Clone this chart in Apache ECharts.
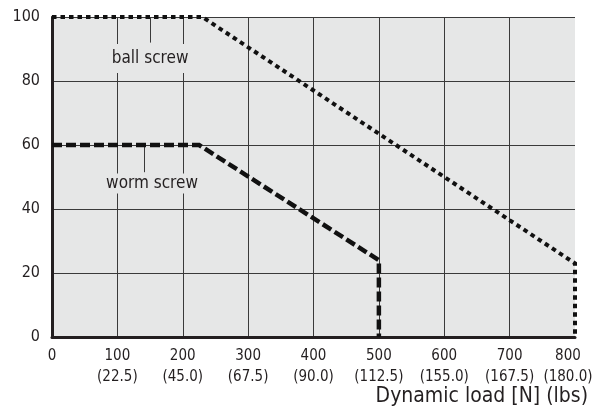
<!DOCTYPE html>
<html>
<head>
<meta charset="utf-8">
<script src="https://cdn.jsdelivr.net/npm/echarts@6/dist/echarts.min.js"></script>
<style>
  html, body { margin: 0; padding: 0; background: #ffffff; }
  #chart { width: 599px; height: 409px; }
</style>
</head>
<body>
<div id="chart"></div>
<script>
// Dynamic load in newtons and the matching pound values printed under each tick
const loadTicksN = [0, 100, 200, 300, 400, 500, 600, 700, 800];
const loadTicksLbs = ['', '(22.5)', '(45.0)', '(67.5)', '(90.0)', '(112.5)', '(155.0)', '(167.5)', '(180.0)'];
const percentTicks = [0, 20, 40, 60, 80, 100];

// Limit curves: [load N, percent]
const ballScrew = [[0, 100], [230, 100], [800, 23], [800, 0]];
const wormScrew = [[0, 60], [225, 60], [500, 24], [500, 0]];

// Curve captions and their leader ticks
const ballLabel = { text: 'ball screw', at: [150, 87], leader: [[150, 100], [150, 92]] };
const wormLabel = { text: 'worm screw', at: [153, 48], leader: [[141, 60], [141, 51.5]] };

const FONT = '"Liberation Sans Narrow", "DejaVu Sans Condensed", sans-serif';
const INK = '#231f20';
const PANEL = '#e6e7e7';

const chart = echarts.init(document.getElementById('chart'), null, { renderer: 'canvas' });

function caption(lbl, padding) {
  return {
    symbol: 'rect',
    symbolSize: 0,
    silent: true,
    data: [{ coord: lbl.at }],
    label: {
      show: true,
      position: 'inside',
      formatter: lbl.text,
      color: INK,
      fontFamily: FONT,
      fontSize: 17,
      backgroundColor: PANEL,
      padding: padding
    }
  };
}

function leader(lbl) {
  return {
    silent: true,
    symbol: 'none',
    label: { show: false },
    lineStyle: { color: '#3a3a3a', width: 1, type: 'solid' },
    data: [[{ coord: lbl.leader[0] }, { coord: lbl.leader[1] }]]
  };
}

const gridColors = loadTicksN.map((v, i) => (i === loadTicksN.length - 1 ? 'rgba(0,0,0,0)' : '#3a3a3a'));

chart.setOption({
  animation: false,
  backgroundColor: '#ffffff',
  title: {
    text: 'Dynamic load [N] (lbs)',
    right: 11,
    top: 386,
    padding: 0,
    textStyle: { color: INK, fontFamily: FONT, fontSize: 21, fontWeight: 'normal' }
  },
  grid: {
    left: 52, right: 24, top: 17, bottom: 72,
    outerBoundsMode: 'none',
    containLabel: false,
    show: true, backgroundColor: PANEL, borderWidth: 0
  },
  xAxis: {
    type: 'value',
    min: loadTicksN[0],
    max: loadTicksN[loadTicksN.length - 1],
    interval: 100,
    axisLine: { show: true, onZero: false, lineStyle: { color: INK, width: 3 } },
    axisTick: { show: false },
    splitLine: { show: true, lineStyle: { color: gridColors, width: 1 } },
    axisLabel: {
      margin: 9,
      color: INK,
      fontFamily: FONT,
      fontSize: 15,
      lineHeight: 21,
      hideOverlap: false,
      formatter: function (value) {
        const i = loadTicksN.indexOf(value);
        if (i < 0) return '';
        if (i === 0) return String(value);
        if (i === loadTicksN.length - 1) {
          return '{e|' + value + '}\n{e|' + loadTicksLbs[i] + '}';
        }
        return value + '\n' + loadTicksLbs[i];
      },
      rich: {
        e: { color: INK, fontFamily: FONT, fontSize: 15, lineHeight: 21, padding: [0, 14, 0, 0] }
      }
    }
  },
  yAxis: {
    type: 'value',
    min: percentTicks[0],
    max: percentTicks[percentTicks.length - 1],
    interval: 20,
    axisLine: { show: true, lineStyle: { color: INK, width: 3 } },
    axisTick: { show: false },
    splitLine: { show: true, lineStyle: { color: '#3a3a3a', width: 1 } },
    axisLabel: {
      margin: 12,
      color: INK,
      fontFamily: FONT,
      fontSize: 16,
      formatter: function (value) {
        return percentTicks.indexOf(value) >= 0 ? String(value) : '';
      }
    }
  },
  series: [
    {
      name: 'ball screw',
      type: 'line',
      data: ballScrew,
      symbol: 'none',
      z: 5,
      lineStyle: { color: '#111111', width: 4, type: [4.5, 4], cap: 'butt', join: 'miter' },
      markPoint: caption(ballLabel, [7, 3, 5, 3]),
      markLine: leader(ballLabel)
    },
    {
      name: 'worm screw',
      type: 'line',
      data: wormScrew,
      symbol: 'none',
      z: 5,
      lineStyle: { color: '#111111', width: 4.5, type: [10, 4], cap: 'butt', join: 'miter' },
      markPoint: caption(wormLabel, [2, 3, 1, 3]),
      markLine: leader(wormLabel)
    }
  ]
});
</script>
</body>
</html>
